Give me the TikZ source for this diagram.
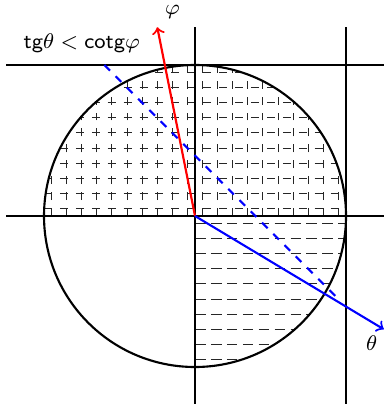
\documentclass[tikz,border=0pt]{standalone}
\begin{document}
\begin{tikzpicture}[
  hatch/.style={black!85, line width=0.4pt},
  axis/.style={black, thick},
  lbl/.style={font=\footnotesize, inner sep=1pt},
]
\useasboundingbox (-2.583,-2.490) rectangle (2.503,2.861);
% hatching
\begin{scope}
  \clip (0,0) circle (2);
  \foreach \i in {0,...,19}
    \draw[hatch, dashed] ({-1.9+0.2*\i},0) -- ({-1.9+0.2*\i},2);
  \foreach \i in {0,...,9}
    \draw[hatch, dashed] (-2,{0.1+0.2*\i}) -- (2,{0.1+0.2*\i});
  \foreach \i in {0,...,9}
    \draw[hatch, dash pattern=on 4pt off 2pt] (0,{-0.1-0.2*\i}) -- (2,{-0.1-0.2*\i});
\end{scope}
% circle and lines
\node[circle, minimum size=4cm, inner sep=0pt, draw, thick] (c) at (0,0) {};
\coordinate (O) at (0,0);
\coordinate (hl0) at (-2.5,0); \coordinate (hr0) at (2.5,0);
\coordinate (hl2) at (-2.5,2); \coordinate (hr2) at (2.5,2);
\coordinate (vb0) at (0,-2.5); \coordinate (vt0) at (0,2.5);
\coordinate (vb2) at (2,-2.5); \coordinate (vt2) at (2,2.5);
\draw[axis] (hl0) -- (hr0);
\draw[axis] (hl2) -- (hr2);
\draw[axis] (vb0) -- (vt0);
\draw[axis] (vb2) -- (vt2);
% dashed boundary
\coordinate (d1) at (-1.2,2); \coordinate (d2) at (1.9,-1.1);
\draw[blue, thick, dashed] (d1) -- (d2);
% arrows
\coordinate (phi) at (-0.5,2.5);
\coordinate (theta) at (2.5,-1.5);
\draw[red, thick, ->] (O) -- (phi);
\draw[blue, thick, ->] (O) -- (theta);
\node[lbl] (lphi) at (-0.30,2.70) {$\varphi$};
\node[lbl] (ltheta) at (2.34,-1.68) {$\theta$};
\node[lbl] (cond) at (-1.50,2.29) {\textsf{tg}$\theta < {}$\textsf{cotg}$\varphi$};
\end{tikzpicture}
\end{document}
